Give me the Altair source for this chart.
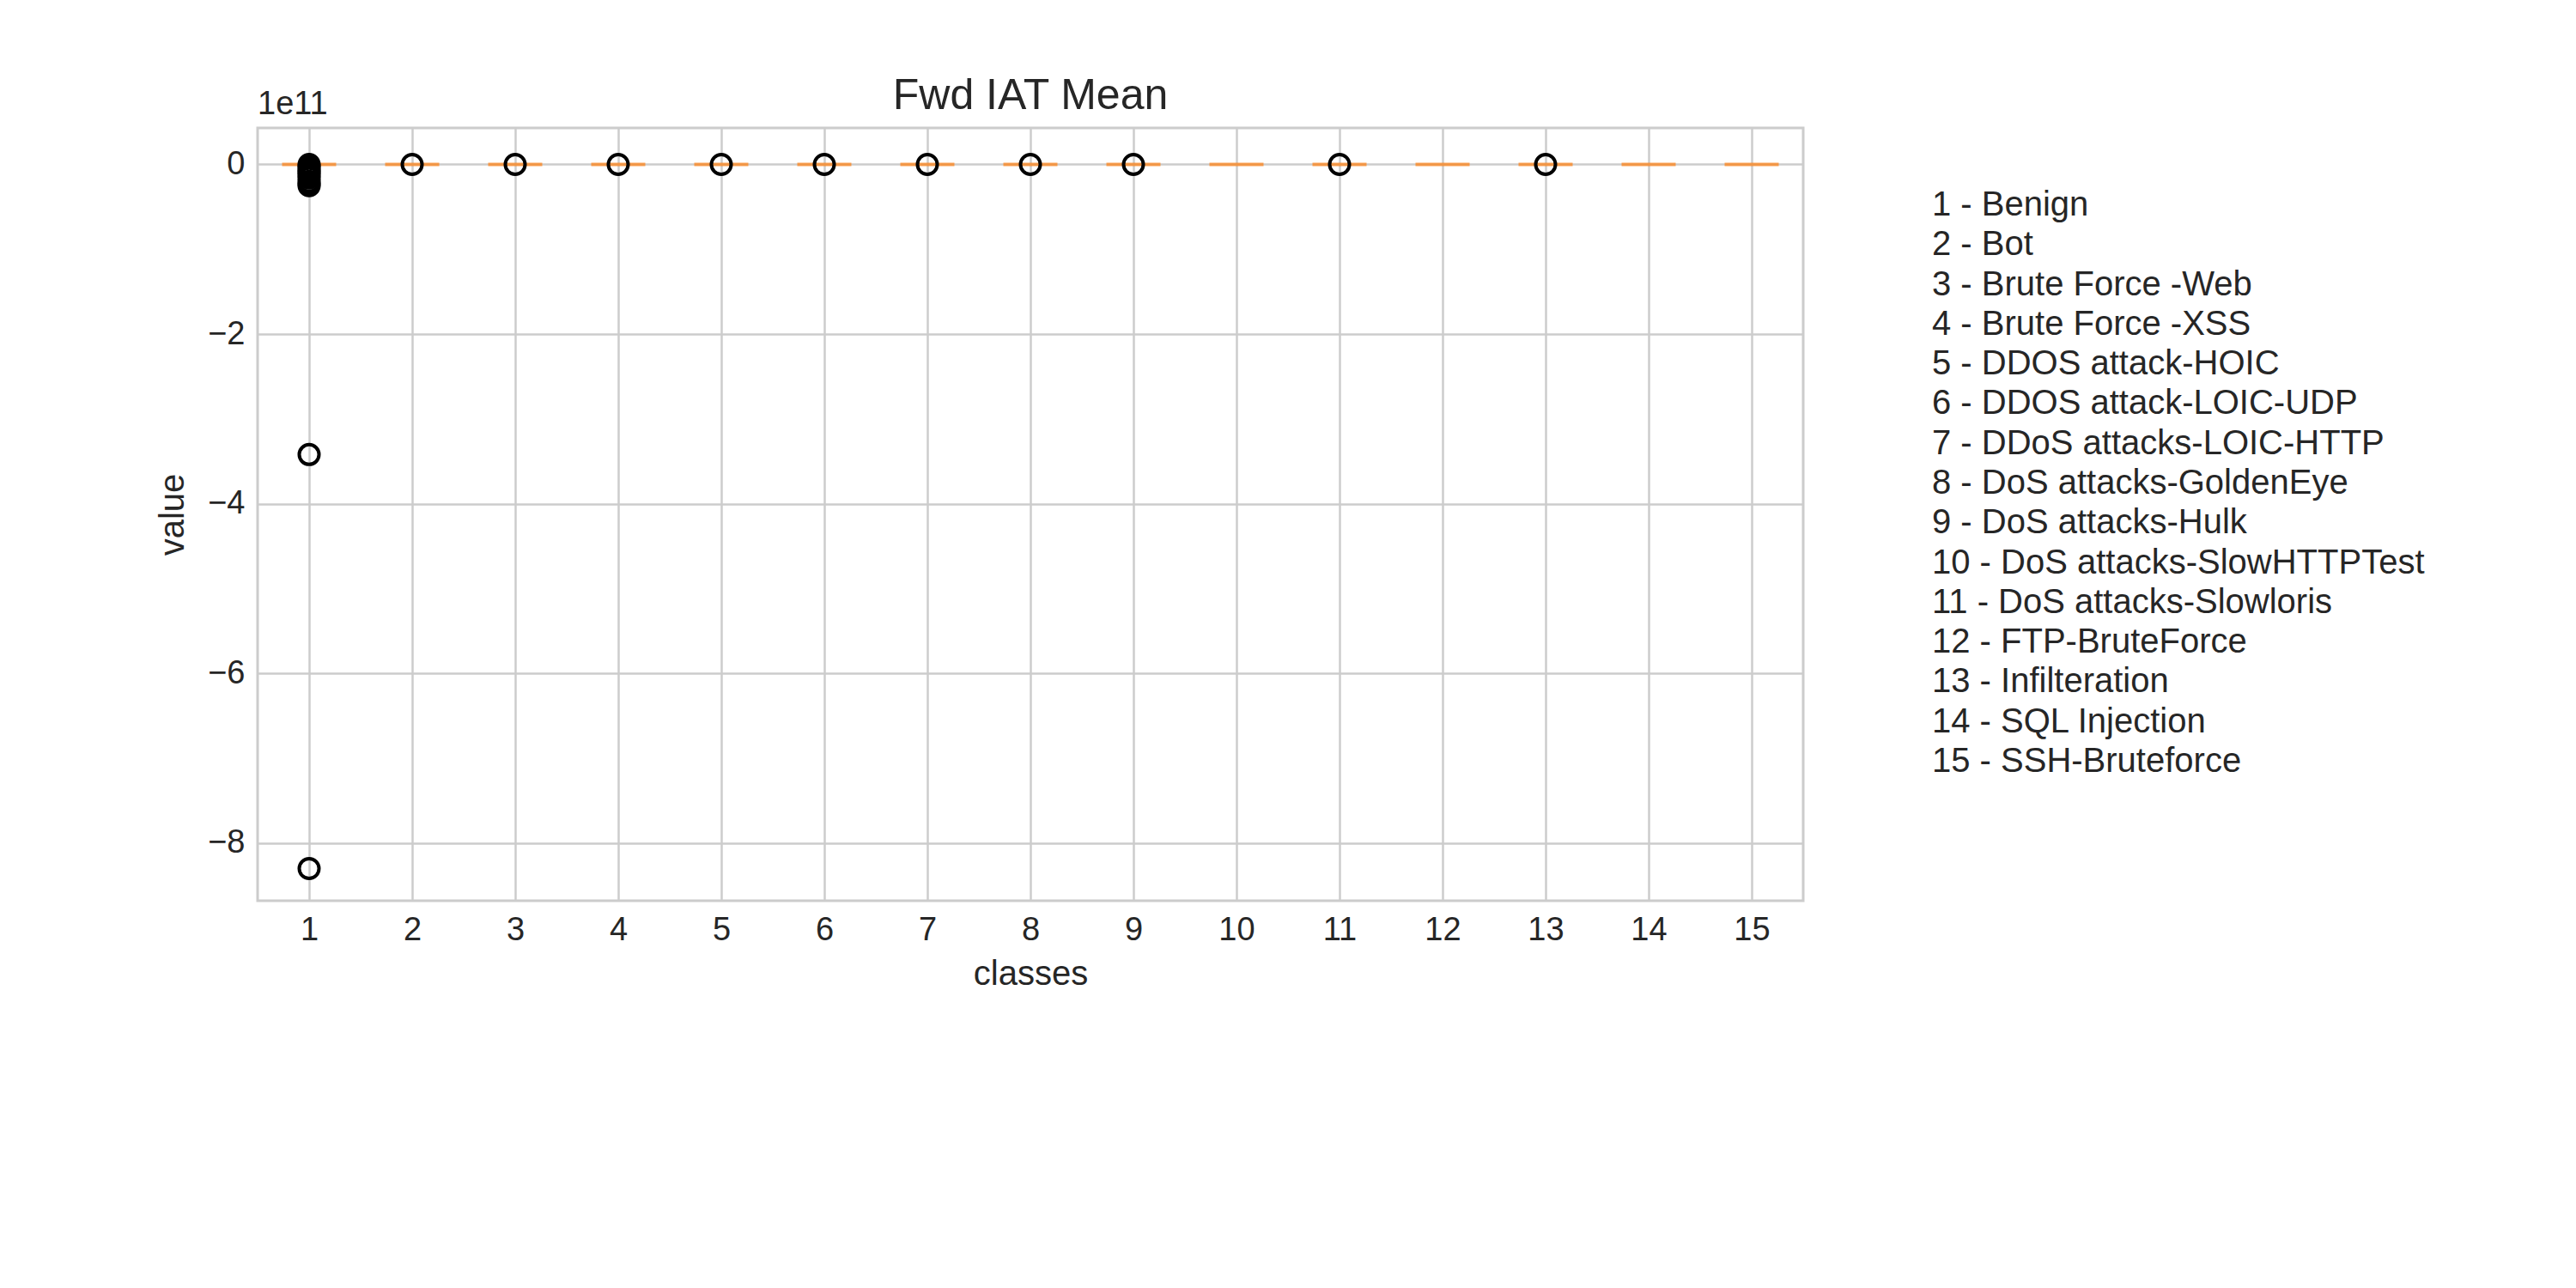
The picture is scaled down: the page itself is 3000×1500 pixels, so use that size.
import altair as alt
import pandas as pd

classes = list(range(1, 16))
class_names = ["Benign", "Bot", "Brute Force -Web", "Brute Force -XSS", "DDOS attack-HOIC",
               "DDOS attack-LOIC-UDP", "DDoS attacks-LOIC-HTTP", "DoS attacks-GoldenEye",
               "DoS attacks-Hulk", "DoS attacks-SlowHTTPTest", "DoS attacks-Slowloris",
               "FTP-BruteForce", "Infilteration", "SQL Injection", "SSH-Bruteforce"]
medians = [0.0] * 15  # units of 1e11
outlier_class = [1]*12 + [2, 3, 4, 5, 6, 7, 8, 9, 11, 13]
outlier_value = [0.0, -0.02, -0.05, -0.08, -0.1, -0.13, -0.16, -0.2, -0.23, -0.25, -3.42, -8.3] + [0.0]*10

FONT = "Liberation Sans"
W, H = 1800, 900

med_df = pd.DataFrame({"cls": classes, "value": medians})
out_df = pd.DataFrame({"cls": outlier_class, "value": outlier_value})
leg_df = pd.DataFrame({"row": list(range(15)),
                       "label": [f"{c} - {n}" for c, n in zip(classes, class_names)]})

xs = alt.Scale(domain=[0.5, 15.5], nice=False, zero=False)
ys = alt.Scale(domain=[-8.68, 0.43], nice=False, zero=False)
xax = alt.Axis(values=classes, format="d", title="classes", grid=True, tickSize=7, labelPadding=8,
               titlePadding=12, domain=False)
yax = alt.Axis(values=[0, -2, -4, -6, -8], title="value", grid=True, tickSize=7, labelPadding=8,
               titlePadding=20, domain=False, labelExpr="replace(datum.label, '-', '\u2212')")

med = alt.Chart(med_df).mark_tick(color="#ff7f0e", thickness=4, size=63, orient="horizontal").encode(
    x=alt.X("cls:Q", scale=xs, axis=xax),
    y=alt.Y("value:Q", scale=ys, axis=yax),
)
pts = alt.Chart(out_df).mark_point(shape="circle", filled=False, color="black", size=530, strokeWidth=4, opacity=1).encode(
    x=alt.X("cls:Q", scale=xs, axis=xax),
    y=alt.Y("value:Q", scale=ys, axis=yax),
)
main = alt.layer(med, pts)

sci = alt.Chart(pd.DataFrame({"t": ["1e11"]})).mark_text(align="left", baseline="bottom", font=FONT, fontSize=38, color="#262626").encode(
    x=alt.value(0), y=alt.value(-8), text="t:N")

leg = alt.Chart(leg_df).mark_text(align="left", baseline="middle", font=FONT, fontSize=40, color="#262626").encode(
    x=alt.value(1950),
    y=alt.Y("row:Q", scale=alt.Scale(domain=[0, 14], range=[90, 738]), axis=None),
    text="label:N",
)

chart = alt.layer(main, sci, leg).resolve_scale(y="independent").properties(
    width=W, height=H,
    title=alt.TitleParams("Fwd IAT Mean", font=FONT, fontSize=50, fontWeight="normal", color="#262626", offset=-34),
    autosize=alt.AutoSizeParams(type="none"),
    padding={"left": 292, "top": 141, "right": 880, "bottom": 440},
).configure_view(stroke="#cccccc", strokeWidth=3).configure_axis(
    labelFont=FONT, titleFont=FONT, labelFontSize=38, titleFontSize=40, labelColor="#262626",
    titleColor="#262626", titleFontWeight="normal", gridColor="#cccccc", gridWidth=2.5, tickColor="#cccccc",
    tickWidth=0,
)

chart.save("out.html", embed_options={"renderer": "svg", "actions": False})
